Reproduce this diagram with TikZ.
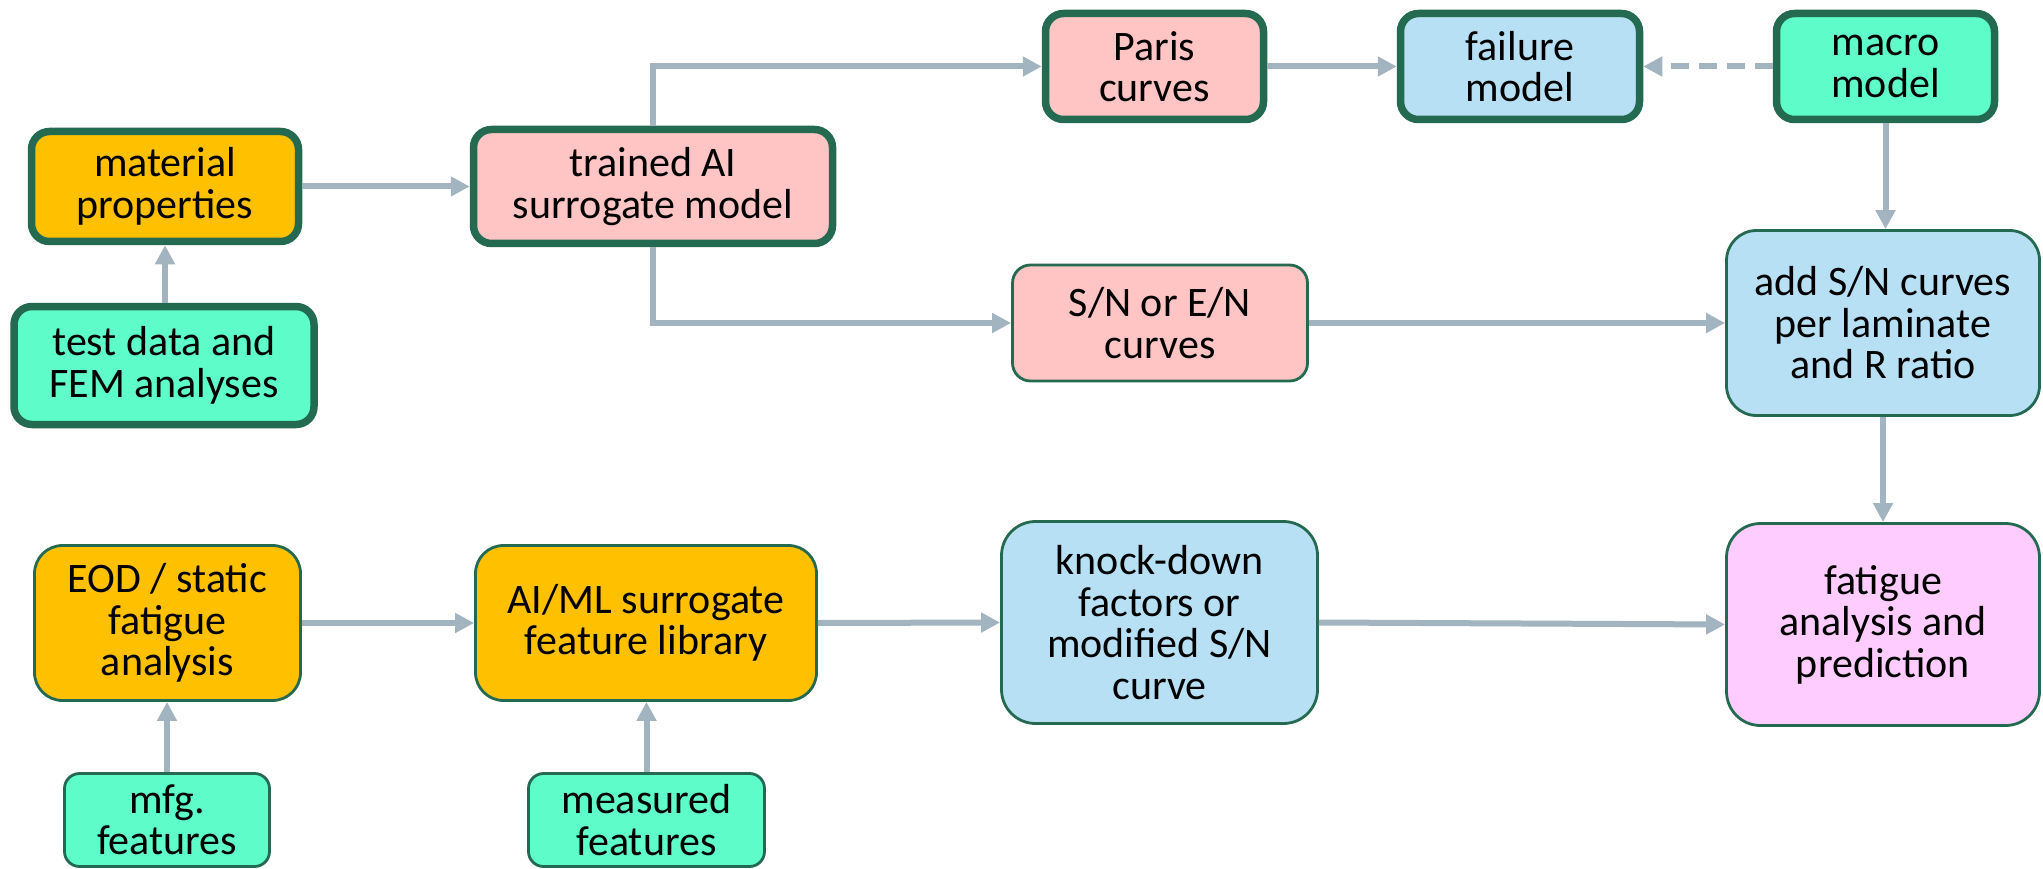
\documentclass[tikz,border=0pt]{standalone}
\usepackage{fontspec}
\setmainfont{Carlito}
\usetikzlibrary{arrows.meta}
\definecolor{bord}{RGB}{36,106,80}
\definecolor{cOrange}{RGB}{255,192,0}
\definecolor{cPink}{RGB}{255,196,196}
\definecolor{cBlue}{RGB}{184,224,244}
\definecolor{cMint}{RGB}{94,252,200}
\definecolor{cMag}{RGB}{255,204,255}
\definecolor{cArrow}{RGB}{161,180,192}
\begin{document}
\begin{tikzpicture}[x=1pt,y=-1pt,
  box/.style={draw=bord, rounded corners=#1, align=center, inner sep=0pt, outer sep=auto,
    font=\fontsize{42}{41.5}\selectfont, text=black},
  thickbox/.style={box=18pt, line width=7.5pt},
  thinbox/.style={box=#1, line width=2.8pt},
  thinbox/.default=18pt,
  arr/.style={draw=cArrow, line width=6pt, -{Triangle[length=19pt,width=19pt]}},
  ]
\useasboundingbox (0,0) rectangle (2043,869);

% top-left group
\node[thickbox, fill=cOrange, minimum width=267pt, minimum height=110pt] (mat) at (165,186.5) {material\\properties};
\node[thickbox, fill=cMint, minimum width=300pt, minimum height=118pt] (test) at (164,365.5) {test data and\\FEM analyses};
\node[thickbox, fill=cPink, minimum width=359pt, minimum height=114pt] (train) at (653,186.5) {trained AI\\surrogate model};
\node[thickbox, fill=cPink, minimum width=218pt, minimum height=106pt] (paris) at (1154.5,66.5) {Paris\\curves};
\node[thickbox, fill=cBlue, minimum width=239pt, minimum height=106pt] (fail) at (1520,66.5) {failure\\model};
\node[thickbox, fill=cMint, minimum width=218pt, minimum height=106pt] (macro) at (1885.5,66.5) {macro\\model};

% middle
\node[thinbox, fill=cPink, minimum width=295pt, minimum height=116pt] (sn) at (1160,323) {S/N or E/N\\curves};
\node[thinbox=30pt, fill=cBlue, minimum width=313pt, minimum height=185pt] (add) at (1883,323) {add S/N curves\\per laminate\\and R ratio};

% bottom row
\node[thinbox=28pt, fill=cOrange, minimum width=266pt, minimum height=155pt] (eod) at (167.5,623) {EOD / static\\fatigue\\analysis};
\node[thinbox=28pt, fill=cOrange, minimum width=341pt, minimum height=155pt] (aiml) at (646,623) {AI/ML surrogate\\feature library};
\node[thinbox=34pt, fill=cBlue, minimum width=316pt, minimum height=202pt] (knock) at (1159.5,622.5) {knock-down\\factors or\\modified S/N\\curve};
\node[thinbox=34pt, fill=cMag, minimum width=313pt, minimum height=202pt] (fat) at (1883,624.5) {fatigue\\analysis and\\prediction};
\node[thinbox=15pt, fill=cMint, minimum width=205pt, minimum height=93pt] (mfg) at (167,820) {mfg.\\features};
\node[thinbox=15pt, fill=cMint, minimum width=236pt, minimum height=93pt] (meas) at (646.5,820) {measured\\features};

% connectors
\draw[arr] (test.north -| mat.south) -- (mat.south);
\draw[arr] (mat.east) -- (train.west);
\draw[arr] (train.north) |- (paris.west);
\draw[arr] (train.south) |- (sn.west);
\draw[arr] (paris.east) -- (fail.west);
\draw[arr, dash pattern=on 18pt off 10pt] (macro.west) -- (fail.east);
\draw[arr] (macro.south) -- (macro.south |- add.north);
\draw[arr] (sn.east) -- (add.west);
\draw[arr] (add.south) -- (add.south |- fat.north);
\draw[arr] (mfg.north) -- (mfg.north |- eod.south);
\draw[arr] (meas.north) -- (meas.north |- aiml.south);
\draw[arr] (eod.east) -- (aiml.west);
\draw[arr] (aiml.east) -- (knock.west);
\draw[arr] (knock.east) -- (fat.west);
\end{tikzpicture}
\end{document}
